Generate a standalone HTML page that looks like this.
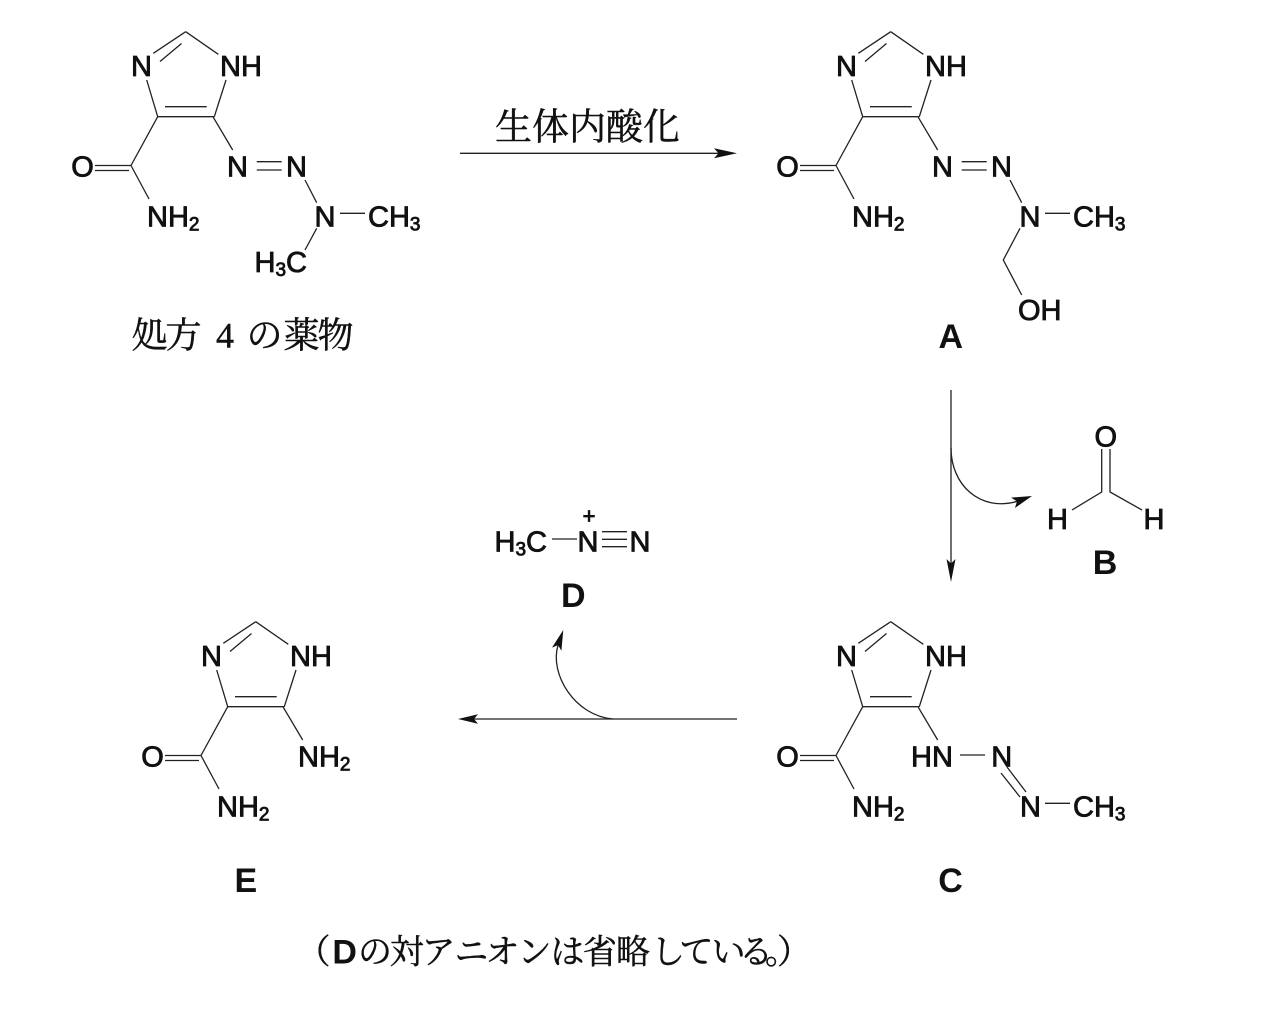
<!DOCTYPE html>
<html><head><meta charset="utf-8">
<style>
html,body{margin:0;padding:0;background:#fff;}
svg{display:block;}
.l{font-family:"Liberation Sans",sans-serif;font-size:29px;fill:#111;stroke:#111;stroke-width:0.85px;}
.s{font-size:19px;}
.b{font-family:"Liberation Sans",sans-serif;font-weight:bold;font-size:34px;fill:#111;}
.j{font-family:"Liberation Serif","Noto Serif CJK JP","Noto Serif CJK SC",serif;fill:#111;stroke:#111;stroke-width:0.45px;}
.bd{stroke:#222;stroke-width:1.3;fill:none;}
</style></head>
<body>
<svg width="1284" height="1016" viewBox="0 0 1284 1016" xmlns="http://www.w3.org/2000/svg">

<!-- ===== Molecule 1 (drug) ===== -->
<g>
<path class="bd" d="M185.7,31.7 L153.3,53.3 M160,61.5 L181.5,43.5 M185.7,31.7 L218.3,54.3 M146.7,80 L157.7,116.7 M226,80 L214.3,116.7 M157.7,116.7 L214.3,116.7 M165,106.7 L206.7,106.7 M157.7,116.7 L131,165.5 M95,165.5 L131,165.5 M95,170.5 L129,170.5 M131,165.5 L149,199 M213.3,117.3 L232.7,150"/>
<text class="l" x="141.5" y="76" text-anchor="middle">N</text>
<text class="l" x="220" y="76">NH</text>
<text class="l" x="82.5" y="176.5" text-anchor="middle">O</text>
<text class="l" x="147" y="226.5">NH<tspan class="s" dy="4">2</tspan></text>
</g>
<path class="bd" d="M256.7,161.7 L281.7,161.7 M256.7,170 L281.7,170 M305,180 L316.7,202.7 M340,213.3 L365,213.3 M316.7,228.3 L305,250"/>
<text class="l" x="237.5" y="176.5" text-anchor="middle">N</text>
<text class="l" x="296.5" y="176.5" text-anchor="middle">N</text>
<text class="l" x="325" y="226.5" text-anchor="middle">N</text>
<text class="l" x="368" y="226.5">CH<tspan class="s" dy="4">3</tspan></text>
<text class="l" x="254.5" y="272">H<tspan class="s" dy="4">3</tspan><tspan dy="-4">C</tspan></text>
<text class="j" font-size="36"><tspan x="131.5" y="347.5">処</tspan><tspan x="165.5" y="347.5">方 </tspan><tspan x="216" y="347.5">4 </tspan><tspan x="246.5" y="347.5">の</tspan><tspan x="283.5" y="347.5">薬</tspan><tspan x="317.5" y="347.5">物</tspan></text>

<!-- ===== Top arrow ===== -->
<text class="j" font-size="37" x="587.5" y="139.5" text-anchor="middle">生体内酸化</text>
<line class="bd" x1="460" y1="153.3" x2="720" y2="153.3"/>
<polygon points="737,153.3 714,148.3 718.5,153.3 714,158.3" fill="#111"/>

<!-- ===== Molecule A ===== -->
<g transform="translate(705,0)">
<path class="bd" d="M185.7,31.7 L153.3,53.3 M160,61.5 L181.5,43.5 M185.7,31.7 L218.3,54.3 M146.7,80 L157.7,116.7 M226,80 L214.3,116.7 M157.7,116.7 L214.3,116.7 M165,106.7 L206.7,106.7 M157.7,116.7 L131,165.5 M95,165.5 L131,165.5 M95,170.5 L129,170.5 M131,165.5 L149,199 M213.3,117.3 L232.7,150"/>
<text class="l" x="141.5" y="76" text-anchor="middle">N</text>
<text class="l" x="220" y="76">NH</text>
<text class="l" x="82.5" y="176.5" text-anchor="middle">O</text>
<text class="l" x="147" y="226.5">NH<tspan class="s" dy="4">2</tspan></text>
<path class="bd" d="M256.7,161.7 L281.7,161.7 M256.7,170 L281.7,170 M305,180 L316.7,202.7 M340,213.3 L365,213.3"/>
<text class="l" x="237.5" y="176.5" text-anchor="middle">N</text>
<text class="l" x="296.5" y="176.5" text-anchor="middle">N</text>
<text class="l" x="325" y="226.5" text-anchor="middle">N</text>
<text class="l" x="368" y="226.5">CH<tspan class="s" dy="4">3</tspan></text>
</g>
<path class="bd" d="M1020,228.3 L1003.3,260 L1021.7,295"/>
<text class="l" x="1018" y="320">OH</text>
<text class="b" x="950.8" y="348" text-anchor="middle">A</text>

<!-- ===== Arrow A -> C with B ===== -->
<line class="bd" x1="951" y1="390" x2="951" y2="565"/>
<polygon points="951,582 946.5,559 951,563.5 955.5,559" fill="#111"/>
<path class="bd" d="M951,448 C951,485 980,512 1017,501.4"/>
<polygon points="1032,496 1014.9,508 1017,501.4 1011.1,497.6" fill="#111"/>

<!-- B -->
<text class="l" x="1105.8" y="446.5" text-anchor="middle">O</text>
<path class="bd" d="M1101.7,449 L1101.7,492 L1072,510 M1110,449 L1110,492 L1142,510"/>
<text class="l" x="1057.5" y="529" text-anchor="middle">H</text>
<text class="l" x="1154" y="529" text-anchor="middle">H</text>
<text class="b" x="1105" y="574" text-anchor="middle">B</text>

<!-- ===== Molecule C ===== -->
<g transform="translate(705,590)">
<path class="bd" d="M185.7,31.7 L153.3,53.3 M160,61.5 L181.5,43.5 M185.7,31.7 L218.3,54.3 M146.7,80 L157.7,116.7 M226,80 L214.3,116.7 M157.7,116.7 L214.3,116.7 M165,106.7 L206.7,106.7 M157.7,116.7 L131,165.5 M95,165.5 L131,165.5 M95,170.5 L129,170.5 M131,165.5 L149,199 M213.3,117.3 L232.7,150"/>
<text class="l" x="141.5" y="76" text-anchor="middle">N</text>
<text class="l" x="220" y="76">NH</text>
<text class="l" x="82.5" y="176.5" text-anchor="middle">O</text>
<text class="l" x="147" y="226.5">NH<tspan class="s" dy="4">2</tspan></text>
</g>
<text class="l" x="911" y="766.5">HN</text>
<path class="bd" d="M960,755 L985,755 M1007,767 L1026,792 M1001,773 L1020,797 M1045,803.3 L1070,803.3"/>
<text class="l" x="1001.7" y="766.5" text-anchor="middle">N</text>
<text class="l" x="1030.5" y="816.5" text-anchor="middle">N</text>
<text class="l" x="1073" y="816.5">CH<tspan class="s" dy="4">3</tspan></text>
<text class="b" x="950.5" y="892" text-anchor="middle">C</text>

<!-- ===== Arrow C -> E with D ===== -->
<line class="bd" x1="737" y1="719" x2="474" y2="719"/>
<polygon points="458,719 478,714.3 474,719 478,723.7" fill="#111"/>
<path class="bd" d="M613,719 C575,716 549,674 558.1,645.1"/>
<polygon points="563.3,630 561.4,650.8 558.1,645.1 552,647.6" fill="#111"/>

<!-- D -->
<text class="l" x="494.5" y="551.5">H<tspan class="s" dy="4">3</tspan><tspan dy="-4">C</tspan></text>
<path class="bd" d="M552,539 L577,539 M602,531.7 L627,531.7 M602,539.3 L627,539.3 M602,546.7 L627,546.7"/>
<text class="l" x="589" y="523.3" text-anchor="middle" style="font-size:22px">+</text>
<text class="l" x="588" y="551.5" text-anchor="middle">N</text>
<text class="l" x="640" y="551.5" text-anchor="middle">N</text>
<text class="b" x="573.3" y="607" text-anchor="middle">D</text>

<!-- ===== Molecule E ===== -->
<g transform="translate(70,590)">
<path class="bd" d="M185.7,31.7 L153.3,53.3 M160,61.5 L181.5,43.5 M185.7,31.7 L218.3,54.3 M146.7,80 L157.7,116.7 M226,80 L214.3,116.7 M157.7,116.7 L214.3,116.7 M165,106.7 L206.7,106.7 M157.7,116.7 L131,165.5 M95,165.5 L131,165.5 M95,170.5 L129,170.5 M131,165.5 L149,199 M213.3,117.3 L232.7,150"/>
<text class="l" x="141.5" y="76" text-anchor="middle">N</text>
<text class="l" x="220" y="76">NH</text>
<text class="l" x="82.5" y="176.5" text-anchor="middle">O</text>
<text class="l" x="147" y="226.5">NH<tspan class="s" dy="4">2</tspan></text>
</g>
<text class="l" x="298" y="766.5">NH<tspan class="s" dy="4">2</tspan></text>
<text class="b" x="245.8" y="892" text-anchor="middle">E</text>

<!-- ===== Footnote ===== -->
<text class="j" font-size="34"><tspan x="296.5" y="963.5">（</tspan><tspan x="332.4" y="963.5" style="font-family:'Liberation Sans',sans-serif;font-weight:bold;stroke-width:0">D</tspan><tspan x="358" y="963.5">の</tspan><tspan x="390" y="963.5">対</tspan><tspan x="421.5" y="963.5">ア</tspan><tspan x="454.5" y="963.5">ニ</tspan><tspan x="485.5" y="963.5">オ</tspan><tspan x="517.5" y="963.5">ン</tspan><tspan x="550.5" y="963.5">は</tspan><tspan x="583" y="963.5">省</tspan><tspan x="616" y="963.5">略</tspan><tspan x="651" y="963.5">し</tspan><tspan x="679.5" y="963.5">て</tspan><tspan x="711.5" y="963.5">い</tspan><tspan x="739" y="963.5">る</tspan><tspan x="765" y="963.5">。</tspan><tspan x="777" y="963.5">）</tspan></text>

</svg>
</body></html>
